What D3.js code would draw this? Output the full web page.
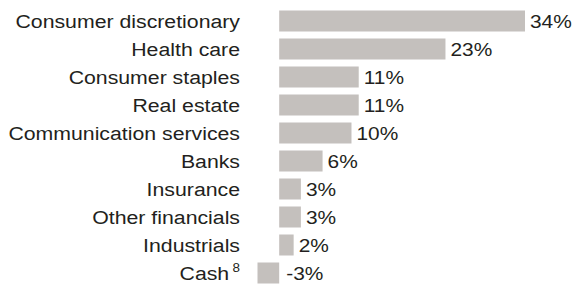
<!DOCTYPE html>
<html>
<head>
<meta charset="utf-8">
<script src="https://cdn.jsdelivr.net/npm/d3@7"></script>
<style>
  body { margin: 0; background: #fff; }
  svg { display: block; }
</style>
</head>
<body>
<main></main>
<script>
// data
let categories = ["Consumer discretionary", "Health care", "Consumer staples", "Real estate",
    "Communication services", "Banks", "Insurance", "Other financials", "Industrials", "Cash"];
let values = [34, 23, 11, 11, 10, 6, 3, 3, 2, -3];
let footnotes = ["", "", "", "", "", "", "", "", "", "8"];

let width = 576, height = 287;
let barColor = "#c4c0bd";
let textColor = "#231f20";
let fontFamily = 'Liberation Sans, Arial, sans-serif';

let svg = d3.select('main')
    .append('svg')
    .attr('width', width)
    .attr('height', height);

let x = d3.scaleLinear()
    .domain([-3, 34])
    .range([257.5, 525]);

let y = d3.scaleBand()
    .domain(categories)
    .range([7, 287])
    .paddingInner(0.25)
    .paddingOuter(0.125);

let rows = categories.map((c, i) => ({ name: c, value: values[i], note: footnotes[i] }));

// bars
svg.selectAll('rect.bar')
    .data(rows)
    .enter()
    .append('rect')
    .attr('class', 'bar')
    .attr('x', d => x(Math.min(0, d.value)))
    .attr('y', d => y(d.name))
    .attr('width', d => Math.abs(x(d.value) - x(0)))
    .attr('height', y.bandwidth())
    .attr('fill', barColor);

// category labels (text in the original is a bit wide, so stretch it)
let labels = svg.selectAll('text.cat')
    .data(rows)
    .enter()
    .append('text')
    .attr('class', 'cat')
    .attr('transform', d => `translate(240,${y(d.name) + y.bandwidth() / 2}) scale(1.12,1)`)
    .attr('dy', '0.35em')
    .attr('text-anchor', 'end')
    .style('font-family', fontFamily)
    .style('font-size', '19px')
    .attr('fill', textColor);

labels.append('tspan').text(d => d.name);
labels.filter(d => d.note)
    .append('tspan')
    .attr('dx', 3)
    .attr('dy', -8)
    .style('font-size', '12px')
    .text(d => d.note);

// value labels
svg.selectAll('text.val')
    .data(rows)
    .enter()
    .append('text')
    .attr('class', 'val')
    .attr('transform', d => `translate(${x(Math.max(0, d.value)) + (d.value < 0 ? 7 : 5)},${y(d.name) + y.bandwidth() / 2}) scale(1.1,1)`)
    .attr('dy', '0.35em')
    .style('font-family', fontFamily)
    .style('font-size', '19px')
    .attr('fill', textColor)
    .text(d => d.value + '%');
</script>
</body>
</html>
